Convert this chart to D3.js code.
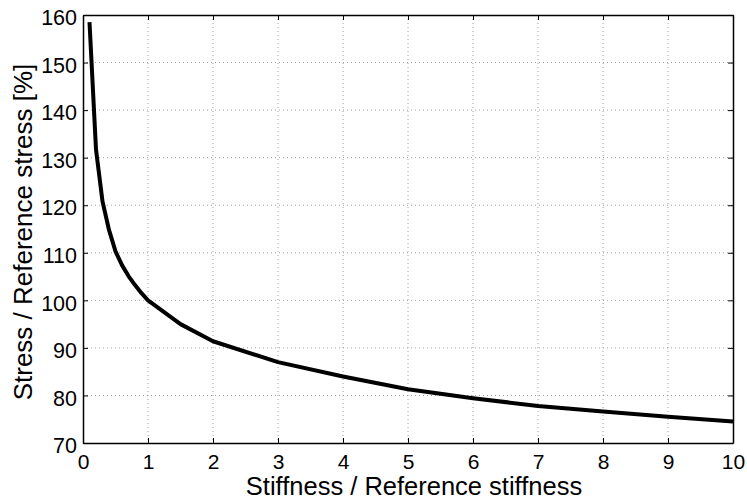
<!DOCTYPE html>
<html><head><meta charset="utf-8">
<script src="https://cdn.jsdelivr.net/npm/d3@7"></script>
<style>
body{margin:0;background:#fff;}
text{font-family:"Liberation Sans",Arial,sans-serif;fill:#000;}
</style></head>
<body><svg id="c" width="747" height="500"></svg>
<script>
const stiffness = [0.1,0.2,0.3,0.4,0.5,0.6,0.7,0.8,0.9,1,1.5,2,3,4,5,6,7,8,9,10];
const stress    = [158.5,131.7,120.8,114.8,110.3,107.4,105.1,103.2,101.5,100,95.0,91.4,87.0,84.0,81.3,79.4,77.8,76.6,75.5,74.5];
const xTicks = [0,1,2,3,4,5,6,7,8,9,10];
const yTicks = [70,80,90,100,110,120,130,140,150,160];
const xLabel = "Stiffness / Reference stiffness";
const yLabel = "Stress / Reference stress [%]";

const svg = d3.select("#c");
const L=83, R=733, T=15, B=443;
const x = d3.scaleLinear().domain([0,10]).range([L,R]);
const y = d3.scaleLinear().domain([70,160]).range([B,T]);

// grid
const g = svg.append("g");
g.selectAll(".gx").data(xTicks.slice(1,-1)).enter().append("line")
 .attr("x1",d=>x(d)).attr("x2",d=>x(d)).attr("y1",T).attr("y2",B)
 .attr("stroke","#a0a0a0").attr("stroke-width",1).attr("stroke-dasharray","1,3");
g.selectAll(".gy").data(yTicks.slice(1,-1)).enter().append("line")
 .attr("y1",d=>y(d)).attr("y2",d=>y(d)).attr("x1",L).attr("x2",R)
 .attr("stroke","#a0a0a0").attr("stroke-width",1).attr("stroke-dasharray","1,3");

// curve
svg.append("path").datum(stiffness.map((s,i)=>[s,stress[i]]))
 .attr("fill","none").attr("stroke","#000").attr("stroke-width",4)
 .attr("stroke-linejoin","round")
 .attr("d",d3.line().x(d=>x(d[0])).y(d=>y(d[1])));

// axes
const fs=21.5;
const ax = svg.append("g").attr("transform",`translate(0,${B})`)
 .call(d3.axisBottom(x).tickValues(xTicks).tickSizeInner(-5).tickSizeOuter(0).tickPadding(0));
const axt = svg.append("g").attr("transform",`translate(0,${T})`)
 .call(d3.axisTop(x).tickValues(xTicks).tickSizeInner(-5).tickSizeOuter(0).tickFormat(""));
const ay = svg.append("g").attr("transform",`translate(${L},0)`)
 .call(d3.axisLeft(y).tickValues(yTicks).tickSizeInner(-5).tickSizeOuter(0).tickPadding(6));
const ayr = svg.append("g").attr("transform",`translate(${R},0)`)
 .call(d3.axisRight(y).tickValues(yTicks).tickSizeInner(-5).tickSizeOuter(0).tickFormat(""));
[ax,axt,ay,ayr].forEach(a=>{
  a.select(".domain").attr("stroke","#000").attr("stroke-width",1.5);
  a.selectAll(".tick line").attr("stroke","#000").attr("stroke-width",1);
  a.selectAll("text").style("font-size",fs+"px").style("font-family","Liberation Sans, Arial, sans-serif").attr("fill","#000");
});
ax.selectAll("text").attr("y",25.5).attr("dy",null).style("font-size","21px");
ay.selectAll("text").attr("dy","0.45em");

svg.append("text").attr("x",(L+R)/2+6).attr("y",495).attr("text-anchor","middle")
 .style("font-size","25.5px").text(xLabel);
svg.append("text").attr("transform",`translate(32,232) rotate(-90)`).attr("text-anchor","middle")
 .style("font-size","26px").text(yLabel);
</script></body></html>
